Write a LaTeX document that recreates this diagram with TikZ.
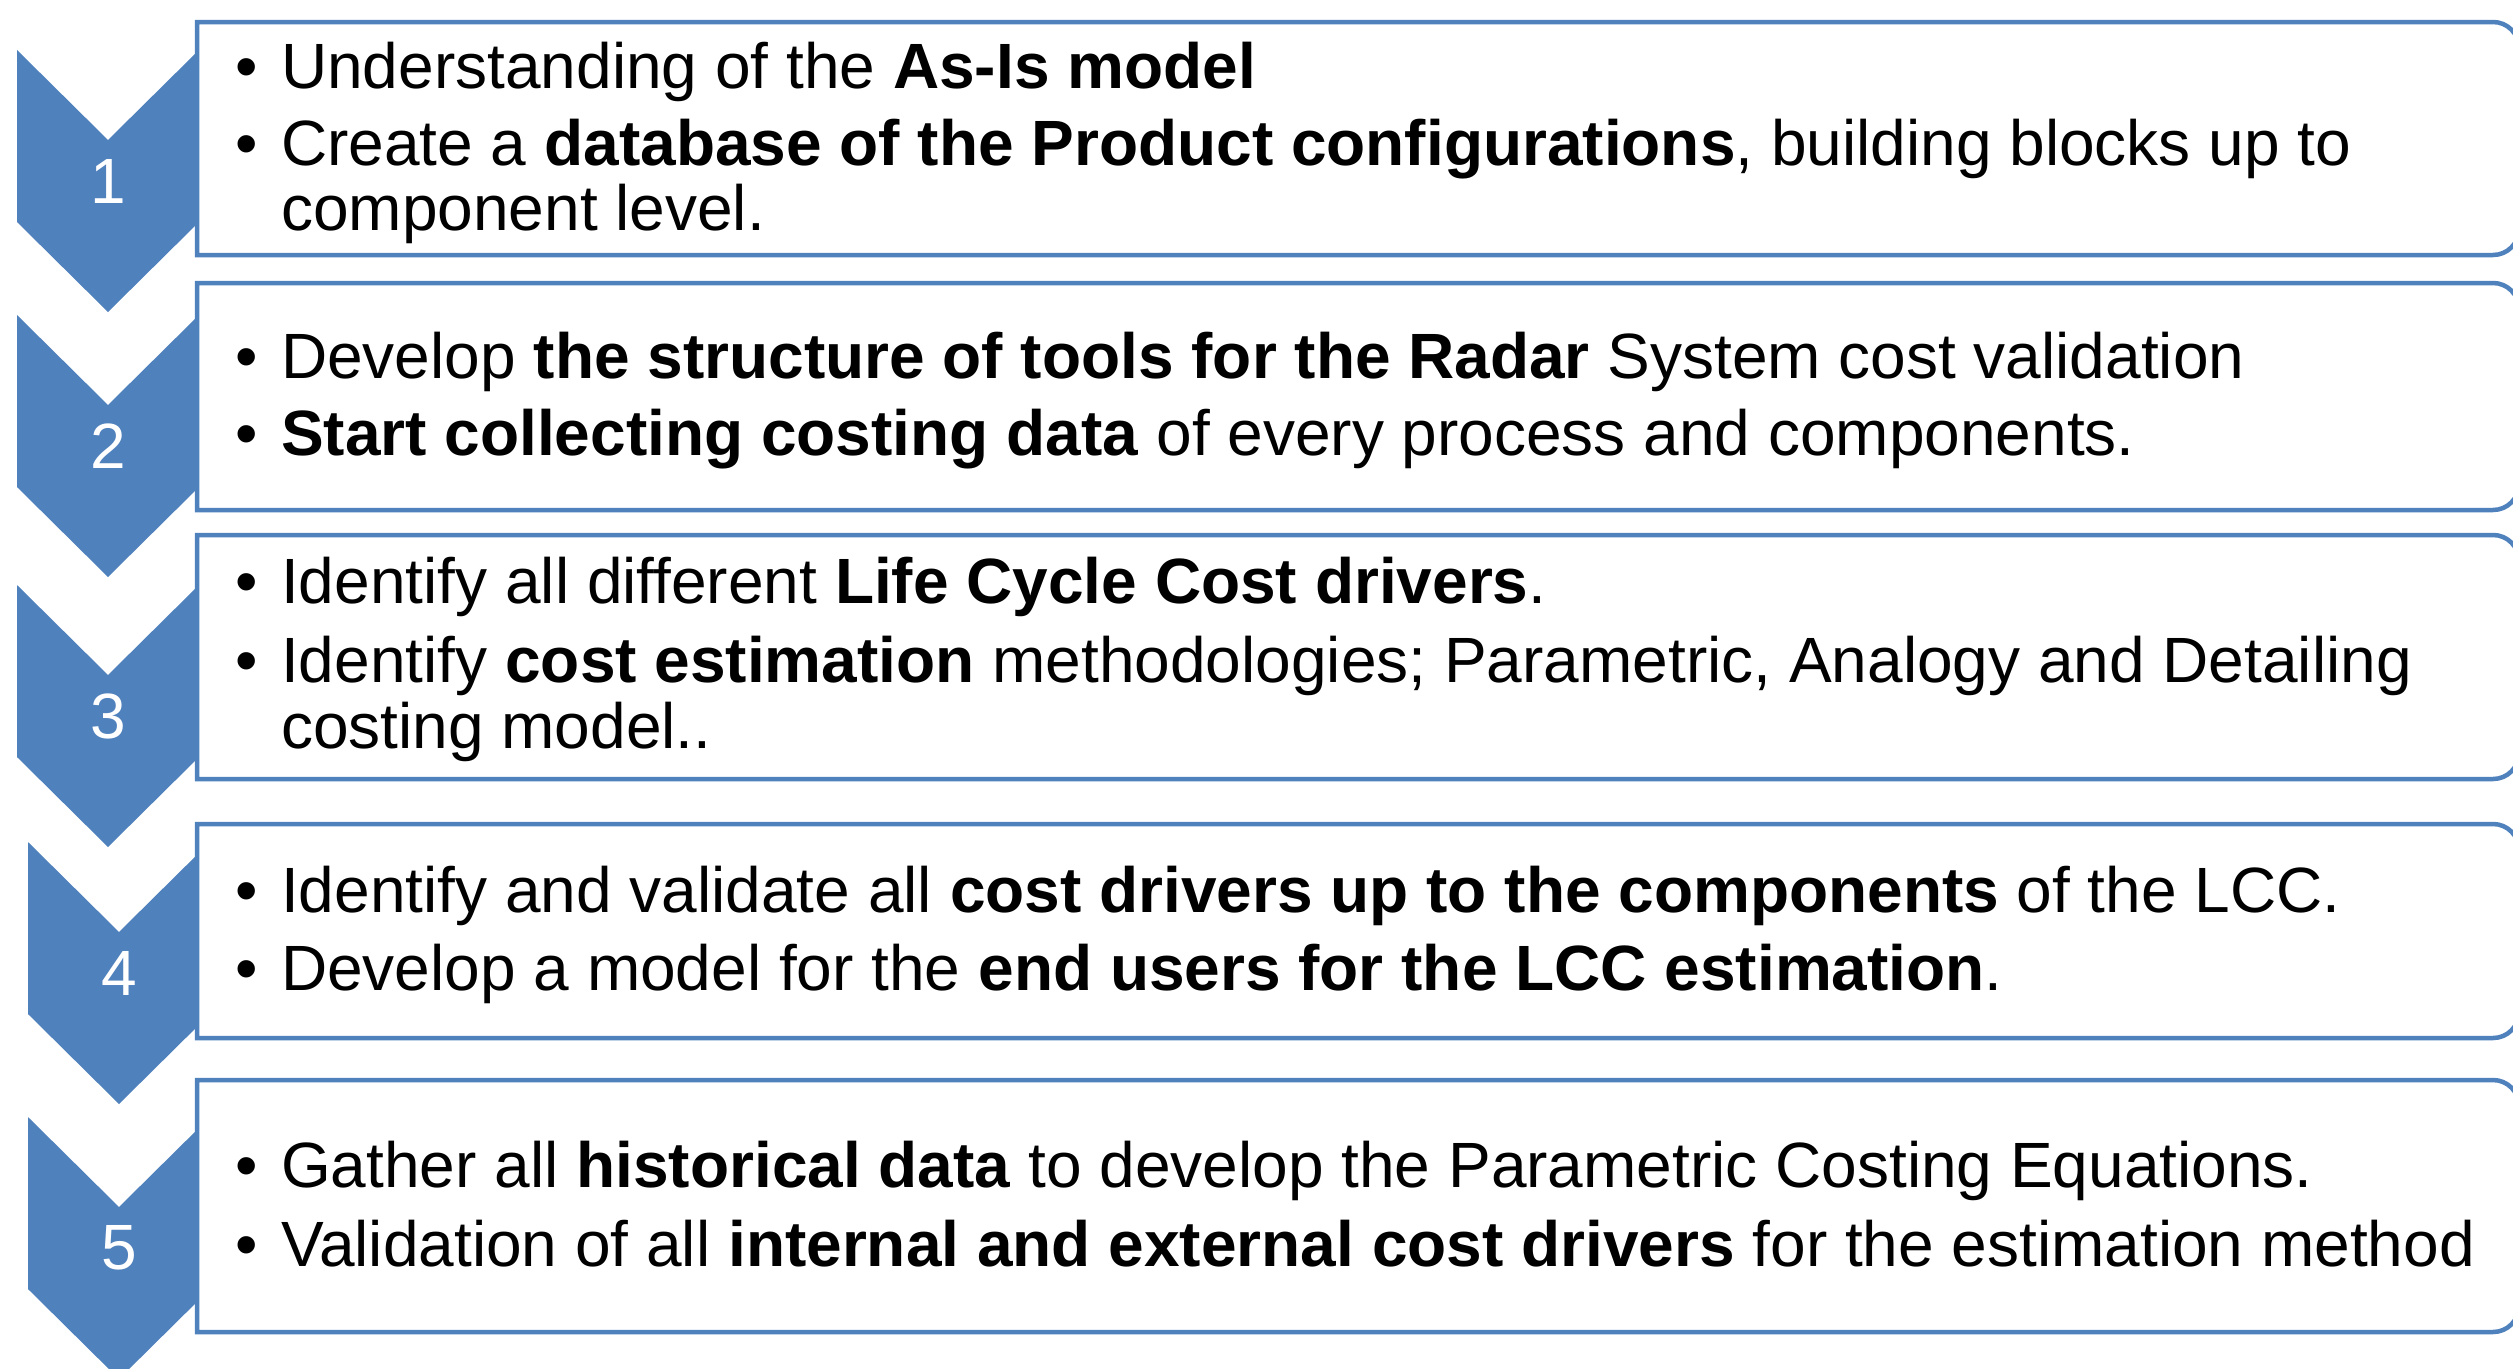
\documentclass[tikz,border=0pt]{standalone}
\usepackage{fontspec}
\setmainfont{Liberation Sans}
\definecolor{cblue}{HTML}{4F81BD}
\newcommand\drawchev[3]{% left x, centre x, top y
  \fill[chevstyle] (#1,-#3) -- (#2,-#3-90) -- (2*#2-#1,-#3) -- (2*#2-#1,-#3-172)
    -- (#2,-#3-262) -- (#1,-#3-172) -- cycle;}
\newcommand\drawstepbox[2]{% top y, bottom y
  \draw[boxstyle] (197,-#2) -- (197,-#1) -- (2493,-#1)
    arc[start angle=90,end angle=0,radius=26] -- (2519,-#2+26)
    arc[start angle=0,end angle=-90,radius=26] -- cycle;}
\tikzset{
  chevstyle/.style={fill=cblue},
  boxstyle/.style={draw=cblue, line width=4.5pt, fill=white},
  num/.style={text=white, inner sep=0pt, anchor=center, font=\fontsize{64}{64}\selectfont},
  txt/.style={anchor=base west, inner sep=0pt, font=\fontsize{64}{64}\selectfont},
  bul/.style={anchor=base west, inner sep=0pt, font=\fontsize{64}{64}\selectfont},
}
\begin{document}
\begin{tikzpicture}[x=1pt,y=1pt]
\useasboundingbox (0,0) rectangle (2513,-1368);
\clip (0,0) rectangle (2513,-1368);
\fill[white] (0,0) rectangle (2513,-1368);
% chevrons
\drawchev{17}{108}{50}
\drawchev{17}{108}{315}
\drawchev{17}{108}{585}
\drawchev{28}{119}{842}
\drawchev{28}{119}{1117}
% boxes
\drawstepbox{22}{255}
\drawstepbox{283}{510}
\drawstepbox{535}{779}
\drawstepbox{824}{1038}
\drawstepbox{1080}{1332}
% numbers
\node[num] (n1) at (108,-181.5) {1};
\node[num] (n2) at (108,-446) {2};
\node[num] (n3) at (108,-716) {3};
\node[num] (n4) at (119,-973) {4};
\node[num] (n5) at (119,-1248) {5};
% box 1
\node[bul] (b1a) at (235.5,-88) {•};
\node[txt] (t1a) at (281,-88) {Understanding of the \textbf{As-Is model}};
\node[bul] (b1b) at (235.5,-165) {•};
\node[txt] (t1b) at (281,-165) {Create a \textbf{database of the Product configurations}, building blocks up to};
\node[txt] (t1c) at (281,-230) {component level.};
% box 2
\node[bul] (b2a) at (235.5,-378) {•};
\node[txt] (t2a) at (281,-378) {Develop \textbf{the structure of tools for the Radar} System cost validation};
\node[bul] (b2b) at (235.5,-455) {•};
\node[txt] (t2b) at (281,-455) {\textbf{Start collecting costing data} of every process and components.};
% box 3
\node[bul] (b3a) at (235.5,-603) {•};
\node[txt] (t3a) at (281,-603) {Identify all different \textbf{Life Cycle Cost drivers}.};
\node[bul] (b3b) at (235.5,-682) {•};
\node[txt] (t3b) at (281,-682) {Identify \textbf{cost estimation} methodologies; Parametric, Analogy and Detailing};
\node[txt] (t3c) at (281,-748) {costing model..};
% box 4
\node[bul] (b4a) at (235.5,-912) {•};
\node[txt] (t4a) at (281,-912) {Identify and validate all \textbf{cost drivers up to the components} of the LCC.};
\node[bul] (b4b) at (235.5,-990) {•};
\node[txt] (t4b) at (281,-990) {Develop a model for the \textbf{end users for the LCC estimation}.};
% box 5
\node[bul] (b5a) at (235.5,-1187) {•};
\node[txt] (t5a) at (281,-1187) {Gather all \textbf{historical data} to develop the Parametric Costing Equations.};
\node[bul] (b5b) at (235.5,-1266) {•};
\node[txt] (t5b) at (281,-1266) {Validation of all \textbf{internal and external cost drivers} for the estimation method};
\end{tikzpicture}
\end{document}
